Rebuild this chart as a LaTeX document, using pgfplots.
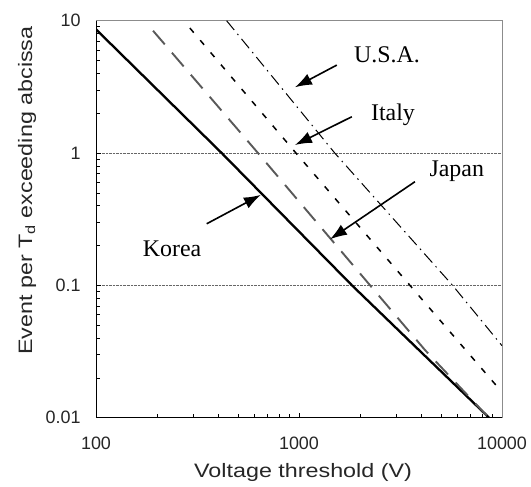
\documentclass[border=0pt]{standalone}
\usepackage{fontspec}
\setmainfont{Liberation Sans}
\newfontfamily\seriffont{Liberation Serif}
\newfontfamily\widesans[FakeStretch=1.2]{Liberation Sans}
\usepackage{pgfplots}
\pgfplotsset{compat=1.18}
\usetikzlibrary{arrows.meta}
\begin{document}
\begin{tikzpicture}
\useasboundingbox (-96bp,-69.3bp) rectangle (435bp,417.7bp);
\begin{loglogaxis}[
  at={(0,0)}, anchor=south west,
  scale only axis, width=406bp, height=397bp,
  xmin=100, xmax=10000, ymin=0.01, ymax=10,
  xtick={100,1000,10000}, xticklabels={100,1000,10000},
  ytick={0.01,0.1,1,10}, yticklabels={0.01,0.1,1,10},
  tick pos=left, tick align=inside,
  major tick length=5bp, minor tick length=3.5bp,
  ymajorgrids, grid style={densely dotted, black!60, line width=0.8bp},
  axis line style={black!45, line width=0.8bp},
  tick style={black, line width=0.6bp},
  /pgf/number format/assume math mode=true,
  ticklabel style={font=\fontsize{18}{18}\selectfont, text=black!85},
  xticklabel style={yshift=-16bp},
  yticklabel style={xshift=-12bp},
  xlabel={Voltage threshold (V)},
  ylabel={Event per T\textsubscript{d} exceeding abcissa},
  every axis x label/.style={at={(axis description cs:0.51,-0.1385)}, anchor=center, font=\widesans\fontsize{19.5}{19.5}\selectfont, text=black!85},
  every axis y label/.style={at={(axis description cs:-0.17,0.572)}, rotate=90, anchor=center, font=\widesans\fontsize{19.5}{19.5}\selectfont, text=black!85},
]
% Korea
\addplot[black, line width=2.3bp] coordinates {(100,8.6) (416,1) (1824,0.1) (8630,0.01)};
% Japan
\addplot[black!65, line width=1.9bp, dash pattern=on 18bp off 11bp] coordinates {(191,8.4) (628,1) (2240,0.1) (4180,0.0324) (8400,0.0104)};
% Italy
\addplot[black, line width=1.5bp, dash pattern=on 6bp off 10bp] coordinates {(290,8.8) (966,1) (3520,0.1) (10000,0.0156)};
% U.S.A.
\addplot[black, line width=1bp, dash pattern=on 12bp off 5bp on 1.5bp off 5bp] coordinates {(440,10) (1500,1) (5710,0.1) (10000,0.035)};

\draw[black, line width=1bp] (rel axis cs:0,1) -- (rel axis cs:0,0) -- (rel axis cs:1,0);

\draw[-{Latex[length=17bp,width=12bp]}, line width=1.6bp] (axis cs:1535,4.62) -- (axis cs:955,3.14);
\draw[-{Latex[length=17bp,width=12bp]}, line width=1.6bp] (axis cs:1820,1.88) -- (axis cs:955,1.15);
\draw[-{Latex[length=17bp,width=12bp]}, line width=1.6bp] (axis cs:3725,0.607) -- (axis cs:1422,0.223);
\draw[-{Latex[length=17bp,width=12bp]}, line width=1.6bp] (axis cs:351,0.292) -- (axis cs:649,0.483);

\node[font=\seriffont\fontsize{24}{24}\selectfont] at (axis cs:2710,5.5) {U.S.A.};
\node[font=\seriffont\fontsize{24}{24}\selectfont] at (axis cs:2904,1.94) {Italy};
\node[font=\seriffont\fontsize{24}{24}\selectfont] at (axis cs:5985,0.723) {Japan};
\node[font=\seriffont\fontsize{24}{24}\selectfont] at (axis cs:237,0.188) {Korea};
\end{loglogaxis}
\end{tikzpicture}
\end{document}
